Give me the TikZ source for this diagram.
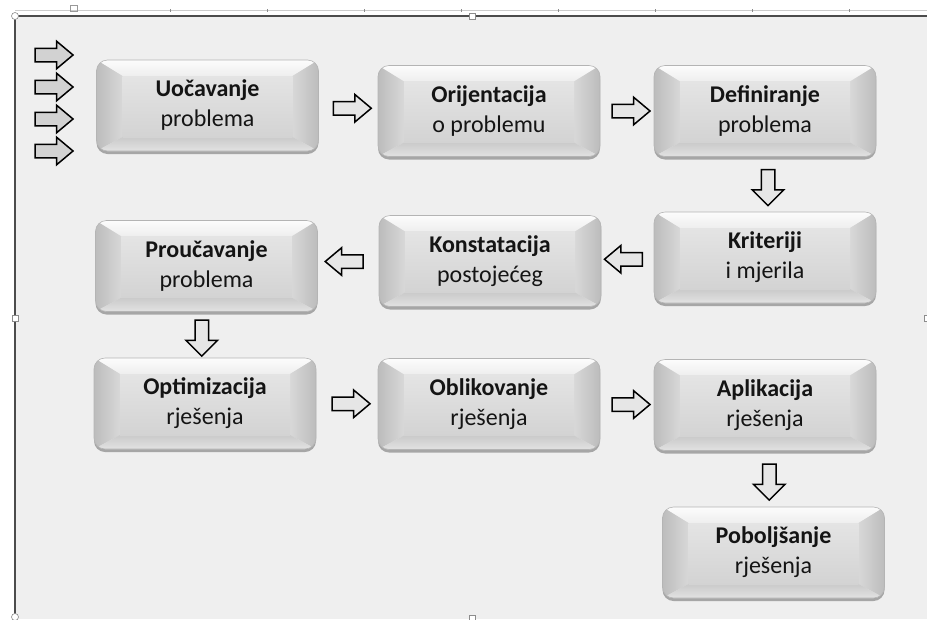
\documentclass[tikz,border=0pt]{standalone}
\usepackage{fontspec}
\setmainfont{Carlito}
\usetikzlibrary{shapes.arrows,shadows,calc}

\definecolor{paper}{HTML}{EFEFEF}
\definecolor{txt}{HTML}{141414}
\definecolor{edge}{HTML}{B4B4B4}
\definecolor{bevtopA}{HTML}{FCFCFC}
\definecolor{bevtopB}{HTML}{EEEEEE}
\definecolor{bevsideA}{HTML}{BCBCBC}
\definecolor{bevsideB}{HTML}{D8D8D8}
\definecolor{bevbotA}{HTML}{CACACA}
\definecolor{bevbotB}{HTML}{E2E2E2}
\definecolor{bevmidA}{HTML}{E4E4E4}
\definecolor{bevmidB}{HTML}{D3D3D3}
\definecolor{arrowlight}{HTML}{E6E6E6}
\definecolor{arrowdark}{HTML}{D2D2D2}

% bevelled "pillow" face of a process box
\newcommand\bevelface{%
  \begin{scope}[sharp corners]
    \coordinate (bnw) at (path picture bounding box.north west);
    \coordinate (bne) at (path picture bounding box.north east);
    \coordinate (bsw) at (path picture bounding box.south west);
    \coordinate (bse) at (path picture bounding box.south east);
    \coordinate (inw) at ($(bnw)+(26pt,-16pt)$);
    \coordinate (ine) at ($(bne)+(-26pt,-16pt)$);
    \coordinate (isw) at ($(bsw)+(26pt,14pt)$);
    \coordinate (ise) at ($(bse)+(-26pt,14pt)$);
    \shade[top color=bevtopA, bottom color=bevtopB] (bnw)--(bne)--(ine)--(inw)--cycle;
    \shade[left color=bevsideA, right color=bevsideB] (bnw)--(inw)--(isw)--(bsw)--cycle;
    \shade[left color=bevsideB, right color=bevsideA] (bne)--(ine)--(ise)--(bse)--cycle;
    \shade[top color=bevbotA, bottom color=bevbotB] (bsw)--(isw)--(ise)--(bse)--cycle;
    \shade[top color=bevmidA, bottom color=bevmidB] (inw)--(ine)--(ise)--(isw)--cycle;
  \end{scope}}

\begin{document}
\begin{tikzpicture}[x=1pt, y=-1pt,
  box/.style={rounded corners=11pt, minimum width=222pt, minimum height=91pt,
    inner sep=0pt, align=center, text=txt,
    font=\fontsize{24}{30}\selectfont,
    fill=bevmidA, draw=edge, line width=0.6pt,
    drop shadow={shadow xshift=0pt, shadow yshift=-3pt, opacity=0.3, fill=black},
    path picture={\bevelface}},
  hflow/.style={single arrow, draw=black, line width=1.5pt, fill=arrowlight,
    minimum height=38pt, minimum width=26pt, single arrow head extend=7pt,
    single arrow tip angle=80, inner xsep=0pt, inner ysep=6pt, outer sep=0pt},
  vflow/.style={hflow, minimum height=36pt, minimum width=30pt,
    single arrow head extend=9pt, single arrow tip angle=90, rotate=-90},
  lflow/.style={hflow, rotate=180},
  handle/.style={draw=black!45, fill=white, line width=0.6pt}]

\useasboundingbox (0,0) rectangle (927,619);

% window frame
\fill[white] (0,0) rectangle (927,619);
\fill[paper] (15,16) rectangle (927,619);
\draw[black!20, line width=1.4pt] (15,10.5) -- (927,10.5);
\foreach \tx in {170,267,364,461,558,655,752,849}
  \draw[black!45, line width=0.6pt] (\tx,9) -- (\tx,12);
\draw[black!40, line width=0.6pt] (70,5) rectangle (77,11);
\draw[black!70, line width=2pt] (15,619) -- (15,16) -- (927,16);
\draw[handle] (15,16) circle (3.5pt);
\draw[handle] (15,617) circle (3.5pt);
\draw[handle] (12,315) rectangle (18,321);
\draw[handle] (469,13) rectangle (475,19);
\draw[handle] (469,615) rectangle (475,621);
\draw[handle] (924,315) rectangle (930,321);

% process boxes
\node[box] (A) at (207.5,105.5) {\textbf{Uočavanje}\\problema};
\node[box] (B) at (489,111) {\textbf{Orijentacija}\\o problemu};
\node[box] (C) at (765,111) {\textbf{Definiranje}\\problema};
\node[box] (D) at (765,257.5) {\textbf{Kriteriji}\\i mjerila};
\node[box] (E) at (490,261) {\textbf{Konstatacija}\\postojećeg};
\node[box] (F) at (206.5,266) {\textbf{Proučavanje}\\problema};
\node[box] (G) at (205,403.5) {\textbf{Optimizacija}\\rješenja};
\node[box] (H) at (489,404) {\textbf{Oblikovanje}\\rješenja};
\node[box] (I) at (765,405) {\textbf{Aplikacija}\\rješenja};
\node[box] (J) at (773.5,552.5) {\textbf{Poboljšanje}\\rješenja};

% incoming arrows
\foreach \iy/\nm in {55/in1, 87/in2, 119/in3, 151/in4}
  \node[hflow, fill=arrowdark] (\nm) at (50,\iy) {};

% block arrows between the steps
\node[hflow] (AB) at ($(A.east)!.5!(B.west)$) {};
\node[hflow] (BC) at ($(B.east)!.5!(C.west)$) {};
\node[vflow] (CD) at ($(C.south)!.5!(D.north)+(3,0)$) {};
\node[lflow] (DE) at ($(D.west)!.5!(E.east)$) {};
\node[lflow] (EF) at ($(E.west)!.5!(F.east)+(0,-2)$) {};
\node[vflow] (FG) at ($(F.south)!.5!(G.north)+(-4,0)$) {};
\node[hflow] (GH) at ($(G.east)!.5!(H.west)$) {};
\node[hflow] (HI) at ($(H.east)!.5!(I.west)$) {};
\node[vflow] (IJ) at ($(I.south)!.5!(J.north)$) {};
\end{tikzpicture}
\end{document}
